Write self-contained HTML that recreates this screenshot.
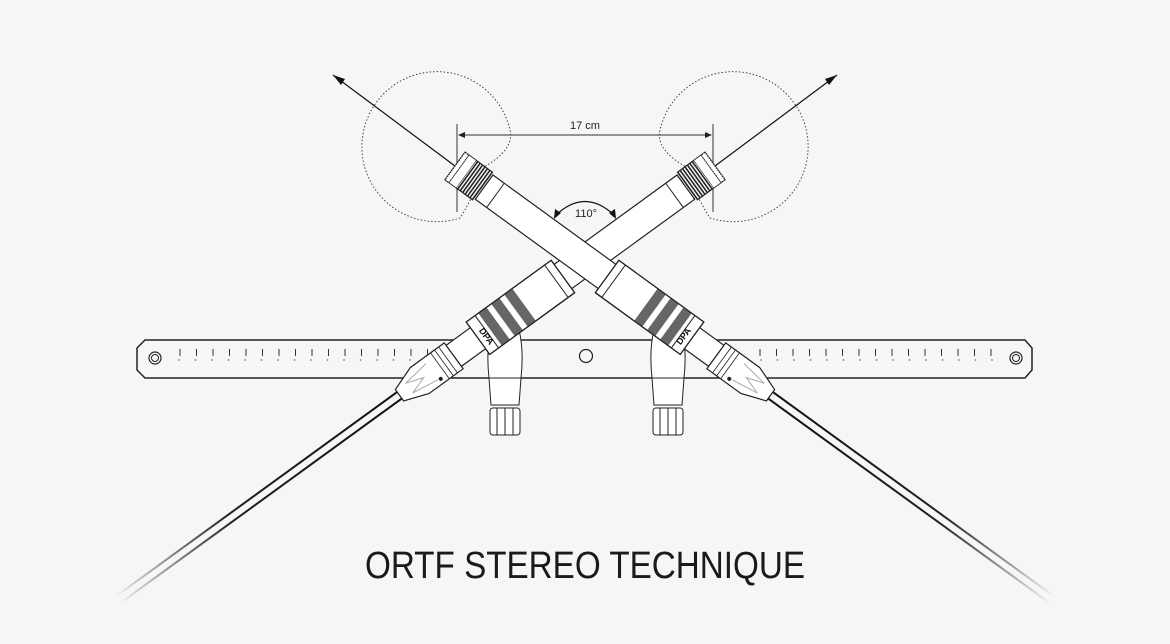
<!DOCTYPE html>
<html><head><meta charset="utf-8"><style>
html,body{margin:0;padding:0;background:#f6f6f6;}
svg{display:block;}
</style></head><body>
<svg width="1170" height="644" viewBox="0 0 1170 644" xmlns="http://www.w3.org/2000/svg">
<defs>
  <linearGradient id="cg" gradientUnits="userSpaceOnUse" x1="390" y1="0" x2="740" y2="0">
    <stop offset="0" stop-color="#111"/>
    <stop offset="0.6" stop-color="#222"/>
    <stop offset="1" stop-color="#111" stop-opacity="0"/>
  </linearGradient>
  <pattern id="hatch" width="3" height="4" patternUnits="userSpaceOnUse">
    <rect width="3" height="4" fill="#fff"/>
    <rect width="1.6" height="4" fill="#222"/>
  </pattern>
  <g id="mic">
    <!-- cable -->
    <line x1="385" y1="-4" x2="740" y2="-4" stroke="url(#cg)" stroke-width="2"/>
    <line x1="385" y1="4" x2="740" y2="4" stroke="url(#cg)" stroke-width="2"/>
    <!-- body tube -->
    <rect x="36" y="-15" width="160" height="30" fill="#fff" stroke="#222" stroke-width="1.2"/>
    <line x1="50" y1="-15" x2="50" y2="15" stroke="#222" stroke-width="1"/>
    <!-- preamp -->
    <rect x="188" y="-20" width="105" height="40" fill="#fff" stroke="#222" stroke-width="1.2"/>
    <line x1="196" y1="-20" x2="196" y2="20" stroke="#222" stroke-width="1"/>
    <rect x="236" y="-20" width="10" height="40" fill="#666"/>
    <rect x="252" y="-20" width="10" height="40" fill="#666"/>
    <rect x="268" y="-20" width="10" height="40" fill="#666"/>
    <rect x="188" y="-20" width="105" height="40" fill="none" stroke="#222" stroke-width="1.2"/>
    <line x1="282" y1="-20" x2="282" y2="20" stroke="#222" stroke-width="1"/>
    <!-- narrow tube -->
    <rect x="293" y="-13" width="30" height="26" fill="#fff" stroke="#222" stroke-width="1.2"/>
    <!-- XLR -->
    <path d="M323,-16 L365,-16 L390,-7 L390,7 L365,16 L323,16 Z" fill="#fff" stroke="#222" stroke-width="1.2"/>
    <line x1="330" y1="-16" x2="330" y2="16" stroke="#222" stroke-width="0.8"/>
    <line x1="335" y1="-16" x2="335" y2="16" stroke="#222" stroke-width="0.8"/>
    <line x1="340" y1="-16" x2="340" y2="16" stroke="#222" stroke-width="0.8"/>
    <path d="M350,-10 L378,-6 L360,0 L378,6 L350,10" fill="none" stroke="#aaa" stroke-width="1"/>
    <circle cx="347" cy="11" r="2" fill="#222"/>
    <!-- capsule grille -->
    <rect x="0" y="-17" width="34" height="34" fill="url(#hatch)" stroke="#222" stroke-width="1.2"/>
    <rect x="0" y="-17" width="5" height="34" fill="#fff" stroke="#222" stroke-width="1.2" stroke-dasharray="1.5 1"/>
    <rect x="5" y="-17" width="9" height="34" fill="#fff" stroke="#222" stroke-width="0.6"/>
  </g>
  <g id="polar">
    <path d="M482,168 Q515,150 510,130 A75,75 0 1 0 460,218 Q475,195 482,168" fill="none" stroke="#444" stroke-width="1" stroke-dasharray="1.5 2"/>
    <line x1="455" y1="166" x2="333" y2="75" stroke="#111" stroke-width="1.2"/>
    <path d="M333,75 L345,79 L341,85 Z" fill="#111"/>
  </g>
</defs>

<!-- polar patterns and axes -->
<use href="#polar"/>
<use href="#polar" transform="translate(1170,0) scale(-1,1)"/>

<!-- 17 cm dimension -->
<line x1="457" y1="124" x2="457" y2="212" stroke="#555" stroke-width="1.2"/>
<line x1="713" y1="124" x2="713" y2="212" stroke="#555" stroke-width="1.2"/>
<line x1="459" y1="135" x2="711" y2="135" stroke="#333" stroke-width="1"/>
<path d="M458,135 L465,132 L465,138 Z M712,135 L705,132 L705,138 Z" fill="#222"/>
<text x="585" y="129" font-family="Liberation Sans, sans-serif" font-size="11" fill="#222" text-anchor="middle">17 cm</text>

<!-- bar -->
<path d="M145,340 L1025,340 L1032,348 L1032,370 L1025,378 L145,378 L137,370 L137,348 Z" fill="#f6f6f6" stroke="#222" stroke-width="1.5"/>
<circle cx="155" cy="358" r="6" fill="none" stroke="#222" stroke-width="1.2"/>
<circle cx="155" cy="358" r="3.5" fill="none" stroke="#222" stroke-width="1"/>
<circle cx="1016" cy="358" r="6" fill="none" stroke="#222" stroke-width="1.2"/>
<circle cx="1016" cy="358" r="3.5" fill="none" stroke="#222" stroke-width="1"/>
<circle cx="586" cy="356" r="6.5" fill="none" stroke="#222" stroke-width="1.2"/>
<g stroke="#333" stroke-width="1">
  <path d="M180,349v7M196.5,349v7M213,349v7M229.5,349v7M246,349v7M262.5,349v7M279,349v7M295.5,349v7M312,349v7M328.5,349v7M345,349v7M361.5,349v7M378,349v7M394.5,349v7M411,349v7M427.5,349v7"/>
  <path d="M760,349v7M776.5,349v7M793,349v7M809.5,349v7M826,349v7M842.5,349v7M859,349v7M875.5,349v7M892,349v7M908.5,349v7M925,349v7M941.5,349v7M958,349v7M974.5,349v7M991,349v7"/>
</g>
<g stroke="#999" stroke-width="1.5">
  <path d="M179,359v2M195.5,359v2M212,359v2M228.5,359v2M245,359v2M261.5,359v2M278,359v2M294.5,359v2M311,359v2M327.5,359v2M344,359v2M360.5,359v2M377,359v2M393.5,359v2M410,359v2M426.5,359v2"/>
  <path d="M761,359v2M777.5,359v2M794,359v2M810.5,359v2M827,359v2M843.5,359v2M860,359v2M876.5,359v2M893,359v2M909.5,359v2M926,359v2M942.5,359v2M959,359v2M975.5,359v2M992,359v2"/>
</g>

<!-- mounts -->
<g fill="#fff" stroke="#222" stroke-width="1">
  <path d="M491,330 Q486,350 489,378 L491,405 L519,405 L521,378 Q524,350 519,330 Z"/>
  <line x1="489" y1="378" x2="521" y2="378"/>
  <rect x="490" y="408" width="30" height="27" rx="3"/>
  <path d="M497,408v27M505,408v27M513,408v27" fill="none"/>
  <path d="M654,330 Q649,350 652,378 L654,405 L682,405 L684,378 Q687,350 682,330 Z"/>
  <line x1="652" y1="378" x2="684" y2="378"/>
  <rect x="653" y="408" width="30" height="27" rx="3"/>
  <path d="M660,408v27M668,408v27M676,408v27" fill="none"/>
</g>

<!-- microphones -->
<g transform="translate(1170,0) scale(-1,1)"><use href="#mic" transform="translate(455,166) rotate(36)"/></g>
<use href="#mic" transform="translate(455,166) rotate(36)"/>

<text transform="translate(686,338) rotate(-54)" font-family="Liberation Sans, sans-serif" font-size="9" font-weight="bold" fill="#111" text-anchor="middle">DPA</text>
<text transform="translate(484,338) rotate(54)" font-family="Liberation Sans, sans-serif" font-size="9" font-weight="bold" fill="#111" text-anchor="middle">DPA</text>

<!-- 110 degree -->
<path d="M556,215 Q585,188 614,215" fill="none" stroke="#111" stroke-width="1.2"/>
<path d="M554,219 L555,209 L561,213 Z M616,219 L615,209 L609,213 Z" fill="#111"/>
<text x="586" y="217" font-family="Liberation Sans, sans-serif" font-size="11" fill="#222" text-anchor="middle">110°</text>

<!-- title -->
<text x="585" y="578" font-family="Liberation Sans, sans-serif" font-size="38" fill="#1a1a1a" text-anchor="middle" textLength="440" lengthAdjust="spacingAndGlyphs">ORTF STEREO TECHNIQUE</text>
</svg>
</body></html>
